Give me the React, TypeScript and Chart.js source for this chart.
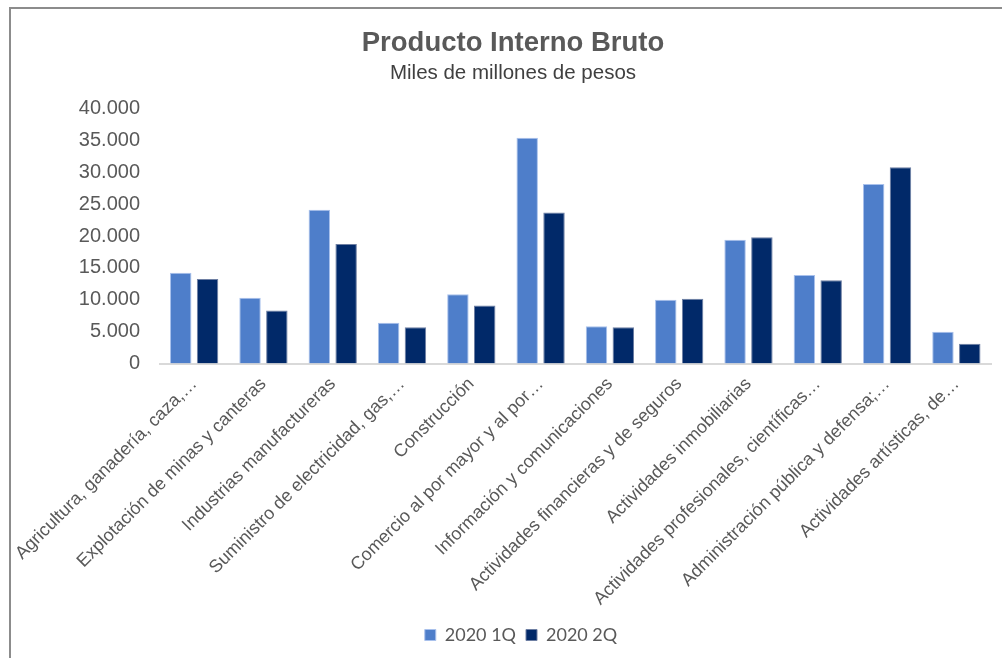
import React, { useEffect, useRef } from "react";
import { Chart, registerables } from "chart.js";

Chart.register(...registerables);

const categories = [
  "Agricultura, ganadería, caza,…",
  "Explotación de minas y canteras",
  "Industrias manufactureras",
  "Suministro de electricidad, gas,…",
  "Construcción",
  "Comercio al por mayor y al por…",
  "Información y comunicaciones",
  "Actividades financieras y de seguros",
  "Actividades inmobiliarias",
  "Actividades profesionales, científicas…",
  "Administración pública y defensa;…",
  "Actividades artísticas, de…",
];

const series1Q = [14250, 10300, 24100, 6400, 10850, 35400, 5850, 10000, 19400, 13900, 28150, 5000];
const series2Q = [13250, 8300, 18750, 5700, 9100, 23700, 5700, 10150, 19800, 13050, 30800, 3100];

const seriesLabels = ["2020 1Q", "2020 2Q"];
const titleText = "Producto Interno Bruto";
const subtitleText = "Miles de millones de pesos";

const formatThousands = (v: number) =>
  String(Math.round(v)).replace(/\B(?=(\d{3})+(?!\d))/g, ".");

const legendShift = {
  id: "legendShift",
  afterLayout(chart: any) {
    if (chart.legend) {
      chart.legend.left += 8;
      chart.legend.right += 8;
      if (chart.legend.adjustHitBoxes) chart.legend.adjustHitBoxes();
    }
  },
};

export default function App() {
  const canvasRef = useRef<HTMLCanvasElement | null>(null);

  useEffect(() => {
    const canvas = canvasRef.current;
    if (!canvas) return;
    const chart = new Chart(canvas, {
      type: "bar",
      data: {
        labels: categories,
        datasets: [
          {
            label: seriesLabels[0],
            data: series1Q,
            backgroundColor: "#4e7eca",
            borderColor: "#a9c1ec",
            borderWidth: 1,
            categoryPercentage: 0.774,
            barPercentage: 0.8,
          },
          {
            label: seriesLabels[1],
            data: series2Q,
            backgroundColor: "#012969",
            borderColor: "#6e7fa3",
            borderWidth: 1,
            categoryPercentage: 0.774,
            barPercentage: 0.8,
          },
        ],
      },
      plugins: [legendShift],
      options: {
        animation: false,
        responsive: false,
        devicePixelRatio: 1,
        layout: { padding: { left: 35, right: 11, top: 0, bottom: 4 } },
        plugins: {
          title: {
            display: true,
            text: titleText,
            color: "#595959",
            font: { family: "'Liberation Sans', Arial, sans-serif", size: 27.5, weight: "bold" },
            padding: { top: 26.5, bottom: 0 },
          },
          subtitle: {
            display: true,
            text: subtitleText,
            color: "#404040",
            font: { family: "'Liberation Sans', Arial, sans-serif", size: 20.5 },
            padding: { top: 2, bottom: 22.4 },
          },
          legend: {
            position: "bottom",
            labels: {
              boxWidth: 11,
              boxHeight: 11,
              color: "#595959",
              padding: 10,
              font: { family: "Lato, 'Liberation Sans', sans-serif", size: 18 },
            },
          },
          tooltip: { enabled: false },
        },
        scales: {
          x: {
            grid: { display: false, drawTicks: false },
            border: { display: true, color: "#d9d9d9", width: 2 },
            ticks: {
              autoSkip: false,
              maxRotation: 45,
              minRotation: 45,
              padding: 10,
              color: "#595959",
              font: { family: "'Liberation Sans', Arial, sans-serif", size: 18 },
            },
            afterFit: (scale: any) => {
              scale.height = 252.5;
            },
          },
          y: {
            min: 0,
            max: 40000,
            grid: { display: false, drawTicks: false },
            border: { display: false },
            ticks: {
              stepSize: 5000,
              padding: 19.5,
              color: "#595959",
              font: { family: "'Liberation Sans', Arial, sans-serif", size: 20 },
              callback: (v: any) => formatThousands(Number(v)),
            },
            afterFit: (scale: any) => {
              scale.width = 124.5;
            },
          },
        },
      },
    });
    return () => chart.destroy();
  }, []);

  return (
    <>
      <div
        style={{
          position: "fixed",
          left: 9,
          top: 7,
          width: 993,
          height: 651,
          borderLeft: "2px solid #8c8c8c",
          borderTop: "2px solid #8c8c8c",
          boxSizing: "border-box",
          background: "#ffffff",
        }}
      />
      <canvas
        ref={canvasRef}
        width={1002}
        height={658}
        style={{ position: "fixed", left: 0, top: 0, width: 1002, height: 658 }}
      />
    </>
  );
}
